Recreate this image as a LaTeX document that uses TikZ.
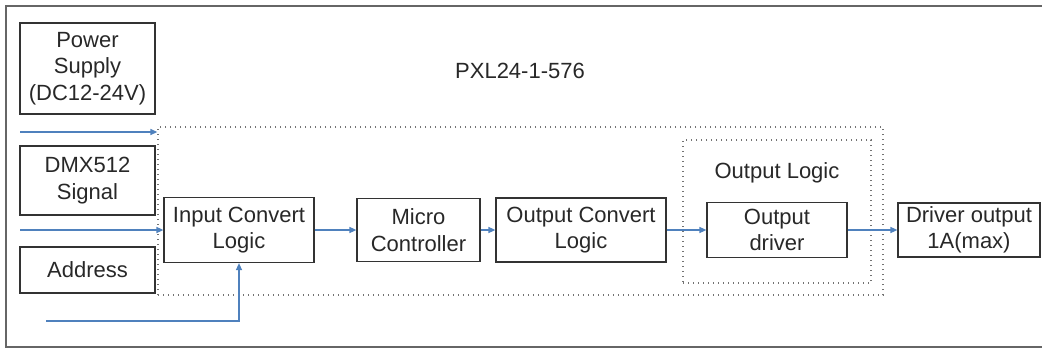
\documentclass[tikz,border=0pt]{standalone}
\usepackage{fontspec}
\setmainfont{Liberation Sans}
\usetikzlibrary{arrows.meta}
\definecolor{sigblue}{RGB}{79,129,189}
\definecolor{txtgray}{RGB}{40,40,40}
\tikzset{
  block/.style={draw=black!80, line width=1.2pt, fill=white, align=center, inner sep=0pt,
    text=txtgray, font=\fontsize{22}{26.5}\selectfont},
  area/.style={draw=black!55, line width=1.3pt, dash pattern=on 1.3pt off 3.7pt, inner sep=0pt},
  sig/.style={draw=sigblue, line width=1.3pt, -{Triangle[length=7pt,width=6pt]}, sigblue}
}
\begin{document}
\begin{tikzpicture}[x=1pt,y=-1pt]

	%Background
	\useasboundingbox (0,0) rectangle (1042,349);
	\draw[draw=white, fill=white] (0,0) rectangle (1042,349);

	%Frame
	\draw[line width=1.4pt, draw=black!60] (1042,6) -- (6,6) -- (6,347) -- (1042,347);

	%Dotted areas
	\node[area, minimum width=725, minimum height=168] (board) at (520.5,211) {};
	\node[area, minimum width=188, minimum height=143] (outlogic) at (777,211.5) {};
	\node[text=txtgray, font=\fontsize{22}{26.5}\selectfont] (title) at (520,71) {PXL24-1-576};
	\node[text=txtgray, font=\fontsize{22}{26.5}\selectfont] (ltitle) at (777,173) {Output Logic};

	%Inputs
	\node[block, minimum width=135, minimum height=91] (power) at (87.5,68.5) {Power\\Supply\\(DC12-24V)};
	\node[block, minimum width=135, minimum height=69] (dmx) at (87.5,180.5) {DMX512\\Signal};
	\node[block, minimum width=135, minimum height=46] (addr) at (87.5,270) {Address};

	%Chain
	\node[block, minimum width=150, minimum height=65] (input) at (239,230) {Input Convert\\Logic};
	\node[block, minimum width=123, minimum height=63] (micro) at (418.5,230) {Micro\\Controller};
	\node[block, minimum width=170, minimum height=64] (outconv) at (581,230) {Output Convert\\Logic};
	\node[block, minimum width=140, minimum height=55] (driver) at (777,230) {Output\\driver};
	\node[block, minimum width=142, minimum height=54] (drvout) at (969,230) {Driver output\\1A(max)};

	%Connectors
	\coordinate (pin) at (20,132);
	\coordinate (din) at (20,230);
	\coordinate (ain) at (46,321);
	\draw[sig] (pin) -- (pin -| board.west);
	\draw[sig] (din) -- (input.west);
	\draw[sig] (ain) -| (input.south);
	\draw[sig] (input) -- (micro);
	\draw[sig] (micro) -- (outconv);
	\draw[sig] (outconv) -- (driver);
	\draw[sig] (driver) -- (drvout);

\end{tikzpicture}
\end{document}
